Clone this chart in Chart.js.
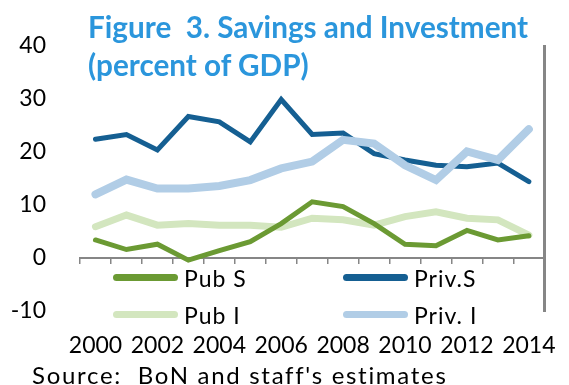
<!DOCTYPE html>
<html lang="en">
<head>
<meta charset="UTF-8">
<title>Savings and Investment</title>
<script src="https://cdn.jsdelivr.net/npm/chart.js"></script>
<style>
  html, body { margin: 0; padding: 0; background: #fff; }
  #wrap { position: relative; width: 569px; height: 385px; font-family: Lato, 'Noto Sans', sans-serif; }
  #chart { position: absolute; left: 0; top: 0; }
  #title {
    position: absolute; left: 88px; top: 8px;
    color: #2b96dc; font-weight: bold; font-size: 29.7px; line-height: 38px;
    white-space: nowrap;
  }
  #legend {
    position: absolute; left: 113px; top: 259px;
    display: grid; grid-template-columns: 230px 200px; grid-auto-rows: 37px;
  }
  .item { display: flex; align-items: center; font-size: 23px; letter-spacing: 1px; color: #000; }
  .swatch { width: 65px; height: 7px; border-radius: 4px; margin-right: 6px; }
  #source { position: absolute; left: 32px; top: 360px; font-size: 24px; letter-spacing: 1.7px; color: #000; white-space: nowrap; }
</style>
</head>
<body>
<div id="wrap">
  <canvas id="chart" width="569" height="385"></canvas>
  <div id="title">Figure&nbsp;&nbsp;3. Savings and Investment<br>(percent of GDP)</div>
  <div id="legend"></div>
  <div id="source">Source:&nbsp; BoN and staff's estimates</div>
</div>
<script>
  // years and series, percent of GDP
  const years = ['2000', '2001', '2002', '2003', '2004', '2005', '2006', '2007',
                 '2008', '2009', '2010', '2011', '2012', '2013', '2014'];
  const pubS  = [3.4, 1.6, 2.6, -0.4, 1.4, 3.1, 6.5, 10.6, 9.7, 6.5, 2.6, 2.3, 5.2, 3.4, 4.2];
  const privS = [22.4, 23.3, 20.4, 26.7, 25.7, 21.9, 29.9, 23.3, 23.6, 19.7, 18.5, 17.5, 17.2, 17.9, 14.4];
  const pubI  = [5.9, 8.1, 6.2, 6.5, 6.2, 6.2, 5.8, 7.5, 7.2, 6.2, 7.8, 8.7, 7.5, 7.2, 4.3];
  const privI = [12.0, 14.8, 13.1, 13.1, 13.6, 14.7, 16.9, 18.2, 22.3, 21.6, 17.5, 14.7, 20.1, 18.5, 24.3];
  const yTicks = [-10, 0, 10, 20, 30, 40];

  const tickFont = { family: 'Lato', size: 23 };

  const datasets = [
    { label: 'Pub S',   data: pubS,  borderColor: '#6b9a33', borderWidth: 5, order: 1 },
    { label: 'Priv.S',  data: privS, borderColor: '#155f92', borderWidth: 5, order: 2 },
    { label: 'Pub I',   data: pubI,  borderColor: '#d3e6bf', borderWidth: 7, order: 3 },
    { label: 'Priv. I', data: privI, borderColor: '#b1cde6', borderWidth: 8, order: 0 }
  ].map(d => Object.assign(d, {
    xAxisID: 'x', yAxisID: 'y', fill: false, tension: 0,
    pointRadius: 0, borderCapStyle: 'round', borderJoinStyle: 'miter'
  }));

  const chart = new Chart(document.getElementById('chart'), {
    type: 'line',
    data: { labels: years, datasets: datasets },
    options: {
      responsive: false,
      animation: false,
      devicePixelRatio: 1,
      layout: { padding: { top: 46, left: 0, right: 0, bottom: 0 } },
      plugins: { legend: { display: false }, tooltip: { enabled: false }, title: { display: false } },
      scales: {
        // axis line at zero with tick marks between years
        x: {
          type: 'category',
          position: { y: 0 },
          offset: true,
          ticks: { display: false },
          grid: { offset: true, drawOnChartArea: false, drawTicks: true, tickLength: 5, color: '#868686', lineWidth: 1.5 },
          border: { display: true, color: '#868686', width: 2 }
        },
        // year labels along the bottom
        x2: {
          type: 'category',
          position: 'bottom',
          labels: years,
          offset: true,
          grid: { display: false },
          border: { display: false },
          ticks: {
            autoSkip: false, maxRotation: 0, padding: 13, color: '#000', font: tickFont,
            callback: (v, i) => (i % 2 === 0 ? years[i] : '')
          },
          afterFit: s => { s.height = 74; }
        },
        y: {
          min: yTicks[0],
          max: yTicks[yTicks.length - 1],
          afterBuildTicks: s => { s.ticks = yTicks.map(v => ({ value: v })); },
          grid: { display: false },
          border: { display: false },
          ticks: { color: '#000', font: tickFont, padding: 26 },
          afterFit: s => { s.width = 80; }
        },
        // frame line on the right edge
        yR: {
          position: 'right',
          min: yTicks[0],
          max: yTicks[yTicks.length - 1],
          ticks: { display: false },
          grid: { display: false },
          border: { display: true, color: '#868686', width: 3 },
          afterFit: s => { s.width = 14; }
        }
      }
    }
  });

  // legend in two columns, built from the datasets
  const legend = document.getElementById('legend');
  chart.data.datasets.forEach(ds => {
    const item = document.createElement('div');
    item.className = 'item';
    const sw = document.createElement('span');
    sw.className = 'swatch';
    sw.style.background = ds.borderColor;
    item.appendChild(sw);
    item.appendChild(document.createTextNode(ds.label));
    legend.appendChild(item);
  });
</script>
</body>
</html>
